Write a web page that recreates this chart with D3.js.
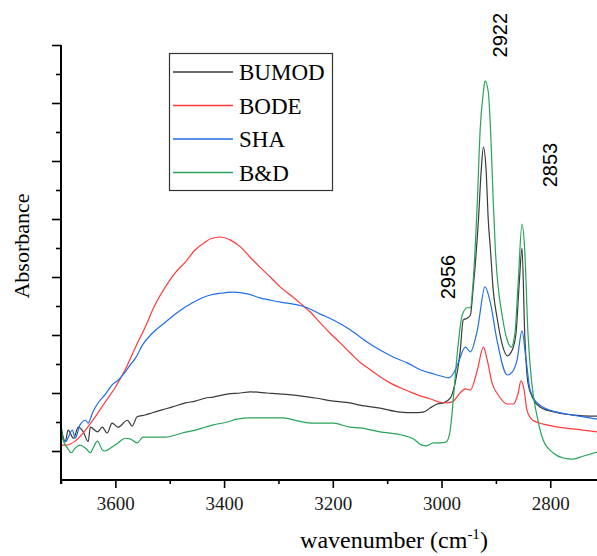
<!DOCTYPE html>
<html lang="en">
<head>
    <meta charset="UTF-8">
    <title>FTIR spectra</title>
    <style>
        body { margin: 0; background: #fff; }
        .axis-title { font-family: "Liberation Serif", serif; }
        .peak-label { font-family: "Liberation Sans", Arial, sans-serif; font-size: 20px; }
        .legend text { font-family: "Liberation Serif", serif; font-size: 23px; }
    </style>
</head>
<body>
<svg id="chart"></svg>
<script src="https://cdnjs.cloudflare.com/ajax/libs/d3/7.8.5/d3.min.js"></script>
<script>
    var width = 597;
    var height = 556;

    // spectra: [wavenumber (cm-1), absorbance]
    var bumod = [[3699,0.036],[3692,0.016],[3687,0.036],[3677,0.022],[3668,0.041],[3659,0.033],[3650,0.016],
        [3646,0.041],[3633,0.033],[3624,0.041],[3615,0.031],[3606,0.048],[3595,0.041],[3578,0.053],[3569,0.043],
        [3560,0.059],[3545,0.062],[3532,0.066],[3514,0.071],[3495,0.076],[3471,0.083],[3453,0.086],[3435,0.091],
        [3420,0.093],[3394,0.098],[3370,0.100],[3352,0.102],[3321,0.100],[3291,0.098],[3260,0.095],[3229,0.091],
        [3199,0.086],[3168,0.083],[3150,0.079],[3113,0.074],[3076,0.067],[3052,0.066],[3034,0.067],[3021,0.074],
        [3008,0.081],[2996,0.083],[2984,0.091],[2975,0.117],[2966,0.169],[2960,0.226],[2953,0.229],[2947,0.234],
        [2942,0.278],[2932,0.400],[2927,0.484],[2923,0.524],[2918,0.484],[2914,0.398],[2910,0.347],[2905,0.278],
        [2898,0.231],[2887,0.179],[2879,0.164],[2870,0.174],[2863,0.203],[2857,0.290],[2852,0.350],[2847,0.203],
        [2841,0.117],[2832,0.091],[2819,0.076],[2787,0.066],[2758,0.062],[2714,0.060]];

    var bode = [[3699,0.010],[3692,0.010],[3674,0.017],[3655,0.036],[3637,0.059],[3619,0.084],[3600,0.110],
        [3582,0.140],[3563,0.179],[3545,0.214],[3527,0.252],[3508,0.283],[3490,0.307],[3471,0.326],[3453,0.347],
        [3435,0.360],[3425,0.366],[3407,0.369],[3389,0.364],[3370,0.352],[3352,0.334],[3334,0.317],[3315,0.300],
        [3297,0.283],[3278,0.269],[3260,0.255],[3242,0.240],[3223,0.221],[3205,0.203],[3186,0.186],[3168,0.169],
        [3150,0.153],[3131,0.140],[3113,0.128],[3094,0.117],[3076,0.109],[3058,0.102],[3039,0.095],[3021,0.090],
        [3002,0.084],[2989,0.083],[2978,0.086],[2966,0.100],[2956,0.107],[2947,0.105],[2934,0.140],[2923,0.179],
        [2916,0.157],[2907,0.117],[2896,0.097],[2879,0.081],[2868,0.081],[2859,0.100],[2854,0.121],[2848,0.105],
        [2843,0.071],[2832,0.053],[2806,0.045],[2758,0.038],[2714,0.033]];

    var sha = [[3699,0.024],[3692,0.016],[3679,0.036],[3674,0.022],[3665,0.045],[3655,0.053],[3650,0.048],
        [3642,0.066],[3631,0.084],[3619,0.097],[3606,0.114],[3595,0.122],[3582,0.136],[3573,0.148],[3563,0.160],
        [3550,0.183],[3532,0.203],[3508,0.222],[3484,0.240],[3459,0.255],[3435,0.266],[3425,0.269],[3407,0.272],
        [3383,0.274],[3357,0.271],[3334,0.264],[3310,0.259],[3284,0.255],[3265,0.252],[3247,0.247],[3223,0.236],
        [3199,0.226],[3168,0.209],[3162,0.205],[3137,0.188],[3113,0.174],[3089,0.162],[3063,0.152],[3039,0.140],
        [3015,0.133],[2996,0.128],[2987,0.126],[2978,0.134],[2971,0.148],[2956,0.179],[2947,0.171],[2934,0.209],
        [2920,0.283],[2910,0.255],[2898,0.191],[2879,0.131],[2870,0.136],[2861,0.157],[2852,0.207],[2845,0.162],
        [2837,0.105],[2819,0.079],[2787,0.067],[2758,0.062],[2714,0.055]];

    var bd = [[3699,0.040],[3696,0.019],[3688,0.005],[3681,-0.003],[3674,0.005],[3665,0.010],[3655,0.005],
        [3646,-0.003],[3641,0.005],[3633,0.017],[3624,0.002],[3619,0.000],[3606,0.007],[3595,0.014],[3582,0.022],
        [3573,0.021],[3560,0.014],[3549,0.024],[3527,0.024],[3508,0.024],[3477,0.031],[3453,0.036],[3435,0.041],
        [3420,0.045],[3394,0.050],[3376,0.055],[3352,0.057],[3321,0.057],[3291,0.057],[3265,0.052],[3236,0.048],
        [3199,0.048],[3168,0.041],[3150,0.040],[3113,0.033],[3076,0.028],[3052,0.021],[3036,0.010],[3028,0.009],
        [3015,0.014],[3002,0.014],[2991,0.016],[2984,0.036],[2978,0.093],[2971,0.169],[2962,0.234],[2953,0.247],
        [2947,0.247],[2942,0.290],[2934,0.433],[2929,0.553],[2923,0.619],[2920,0.638],[2914,0.619],[2909,0.536],
        [2905,0.433],[2901,0.347],[2888,0.231],[2879,0.191],[2872,0.179],[2865,0.203],[2859,0.290],[2852,0.391],
        [2847,0.347],[2841,0.203],[2834,0.117],[2824,0.059],[2813,0.019],[2795,-0.003],[2776,-0.012],
        [2758,-0.014],[2740,-0.009],[2714,-0.002]];

    var seriesNames = ["BUMOD", "BODE", "SHA", "B&D"];
    var seriesColors = ["#3a3a3a", "#ff3b3b", "#1f6fe6", "#27a35a"];
    var seriesData = [bumod, bode, sha, bd];

    var xMajorTicks = [3600, 3400, 3200, 3000, 2800];
    var xMinorTicks = [3700, 3500, 3300, 3100, 2900];
    var yMajorTicks = [0, 0.1, 0.2, 0.3, 0.4, 0.5, 0.6, 0.7];
    var yMinorTicks = [0.05, 0.15, 0.25, 0.35, 0.45, 0.55, 0.65];

    // peak annotations, anchored (baseline) at these wavenumber / absorbance spots
    var peakLabels = [
        {text: "2922", wn: 2879, y: 0.717},
        {text: "2853", wn: 2788, y: 0.493},
        {text: "2956", wn: 2975, y: 0.300}
    ];

    // plot box (avoid the name "top", it is window.top)
    var plotL = 61, plotR = 597, plotT = 45, plotB = 480;

    var x = d3.scaleLinear().domain([3700, 2714]).range([plotL, plotR]);
    var y = d3.scaleLinear().domain([-0.05, 0.7]).range([plotB, plotT]);

    var svg = d3.select("#chart")
        .attr("width", width)
        .attr("height", height);

    svg.append("defs").append("clipPath").attr("id", "plot-clip")
        .append("rect")
        .attr("x", plotL).attr("y", 0)
        .attr("width", plotR - plotL).attr("height", plotB - 1);

    //curves
    var line = d3.line()
        .x(function(d) { return x(d[0]); })
        .y(function(d) { return y(d[1]); })
        .curve(d3.curveMonotoneX);

    svg.append("g")
        .attr("clip-path", "url(#plot-clip)")
        .selectAll("path")
        .data(seriesData)
        .enter()
        .append("path")
        .attr("d", line)
        .attr("fill", "none")
        .attr("stroke", function(d, i) { return seriesColors[i]; })
        .attr("stroke-width", 1.2);

    //x axis, major + minor ticks in separate groups
    var xMajor = svg.append("g").attr("transform", "translate(0," + plotB + ")")
        .call(d3.axisBottom(x).tickValues(xMajorTicks).tickSize(8).tickPadding(9).tickFormat(d3.format("d")));
    var xMinor = svg.append("g").attr("transform", "translate(0," + plotB + ")")
        .call(d3.axisBottom(x).tickValues(xMinorTicks).tickSize(4).tickFormat(""));
    var yMajor = svg.append("g").attr("transform", "translate(" + plotL + ",0)")
        .call(d3.axisLeft(y).tickValues(yMajorTicks).tickSize(9).tickFormat(""));
    var yMinor = svg.append("g").attr("transform", "translate(" + plotL + ",0)")
        .call(d3.axisLeft(y).tickValues(yMinorTicks).tickSize(5).tickFormat(""));
    svg.selectAll(".domain").remove();
    svg.selectAll(".tick line").attr("stroke", "#000").attr("stroke-width", 1.6);

    svg.append("line")
        .attr("x1", plotL).attr("x2", plotR)
        .attr("y1", plotB).attr("y2", plotB)
        .attr("stroke", "#000").attr("stroke-width", 2);
    svg.append("line")
        .attr("x1", plotL).attr("x2", plotL)
        .attr("y1", plotT).attr("y2", plotB + 4)
        .attr("stroke", "#000").attr("stroke-width", 2);

    xMajor.selectAll(".tick text")
        .attr("fill", "#1a1a1a")
        .style("font-family", "'Liberation Serif', serif")
        .style("font-size", "19px");

    //axis titles
    svg.append("text")
        .attr("class", "axis-title")
        .attr("transform", "translate(29,246) rotate(-90)")
        .attr("text-anchor", "middle")
        .style("font-size", "22px")
        .text("Absorbance");

    var xt = svg.append("text")
        .attr("class", "axis-title")
        .attr("x", 394).attr("y", 548)
        .attr("text-anchor", "middle")
        .style("font-size", "24px");
    xt.append("tspan").text("wavenumber (cm");
    xt.append("tspan").attr("dy", -9).style("font-size", "15px").text("-1");
    xt.append("tspan").attr("dy", 9).text(")");

    //peak labels
    svg.selectAll(".peak-label")
        .data(peakLabels)
        .enter()
        .append("text")
        .attr("class", "peak-label")
        .attr("transform", function(d) {
            return "translate(" + x(d.wn) + "," + y(d.y) + ") rotate(-90)";
        })
        .attr("text-anchor", "middle")
        .text(function(d) { return d.text; });

    //legend
    var legend = svg.append("g").attr("class", "legend");
    legend.append("rect")
        .attr("x", 169.5).attr("y", 53.5)
        .attr("width", 163).attr("height", 137)
        .attr("fill", "#fff")
        .attr("stroke", "#333").attr("stroke-width", 1.2);
    var items = legend.selectAll(".item")
        .data(seriesNames)
        .enter()
        .append("g")
        .attr("transform", function(d, i) { return "translate(0," + (72 + i * 33.5) + ")"; });
    items.append("line")
        .attr("x1", 173).attr("x2", 233)
        .attr("stroke", function(d, i) { return seriesColors[i]; })
        .attr("stroke-width", 1.4);
    items.append("text")
        .attr("x", 239).attr("y", 8)
        .text(function(d) { return d; });
</script>
</body>
</html>
